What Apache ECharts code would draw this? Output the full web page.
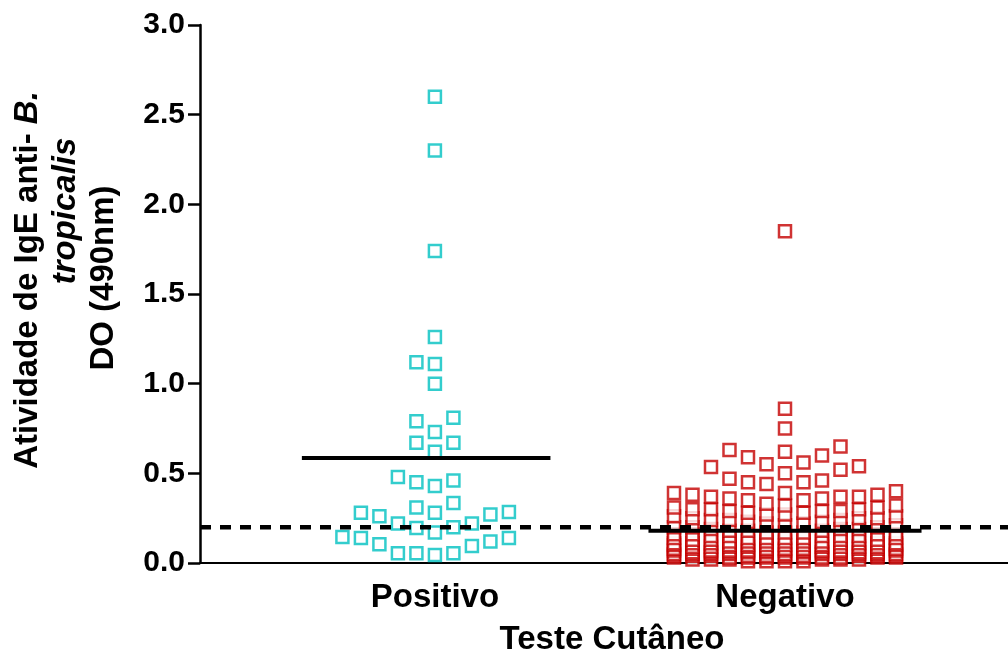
<!DOCTYPE html>
<html>
<head>
    <meta charset="utf-8">
    <title>Teste Cutaneo</title>
    <script src="https://cdn.jsdelivr.net/npm/echarts@6/dist/echarts.min.js"></script>
</head>
<body style="margin:0">
    <div id="main" style="width:1008px;height:654px;"></div>
    <script type="text/javascript">
      // dados
      var categories = ['Positivo', 'Negativo'];
      var positivo = [2.6, 2.3, 1.74, 1.26, 1.12, 1.11, 1.0, 0.81, 0.79, 0.73, 0.67, 0.67, 0.62,
        0.48, 0.46, 0.45, 0.43, 0.335, 0.31, 0.285, 0.28, 0.28, 0.27, 0.26, 0.22, 0.22, 0.20,
        0.195, 0.17, 0.145, 0.14, 0.14, 0.12, 0.105, 0.095, 0.055, 0.055, 0.055, 0.045];
      var negativo = [1.85, 0.86, 0.75, 0.65, 0.63, 0.62, 0.60, 0.59, 0.56, 0.55, 0.54, 0.535,
        0.52, 0.50, 0.47, 0.46, 0.45, 0.45, 0.44,
        0.40, 0.39, 0.39, 0.38, 0.38, 0.37, 0.37, 0.37, 0.36, 0.36, 0.35, 0.35,
        0.33, 0.32, 0.32, 0.31, 0.31, 0.30, 0.30, 0.30, 0.29, 0.29, 0.29, 0.28, 0.28, 0.27,
        0.27, 0.26, 0.26, 0.25, 0.25, 0.25, 0.24, 0.24, 0.24, 0.23, 0.23, 0.22, 0.22, 0.21,
        0.21, 0.20, 0.20, 0.20, 0.19, 0.19, 0.19, 0.18, 0.18, 0.18, 0.17, 0.17, 0.17, 0.16,
        0.16, 0.16, 0.16, 0.15, 0.15, 0.15, 0.15, 0.15, 0.14, 0.14, 0.14, 0.14, 0.14, 0.14,
        0.13, 0.13, 0.13, 0.13, 0.13, 0.12, 0.12, 0.12, 0.12, 0.12, 0.12, 0.11,
        0.11, 0.11, 0.11, 0.11, 0.11, 0.11, 0.10, 0.10, 0.10, 0.10, 0.10, 0.10, 0.10, 0.10,
        0.09, 0.09, 0.09, 0.09, 0.09, 0.09, 0.09, 0.09, 0.08, 0.08, 0.08, 0.08, 0.08, 0.08, 0.08, 0.08,
        0.07, 0.07, 0.07, 0.07, 0.07, 0.07, 0.07, 0.07, 0.07, 0.07,
        0.06, 0.06, 0.06, 0.06, 0.06, 0.06, 0.06, 0.06, 0.06, 0.06,
        0.05, 0.05, 0.05, 0.05, 0.05, 0.05, 0.05, 0.05, 0.05, 0.05,
        0.04, 0.04, 0.04, 0.04, 0.04, 0.04, 0.04, 0.04, 0.04, 0.04,
        0.03, 0.03, 0.03, 0.03, 0.03, 0.03, 0.03, 0.03, 0.03, 0.03,
        0.02, 0.02, 0.02, 0.02, 0.02, 0.02, 0.01, 0.01, 0.01, 0.01];
      var medias = [0.585, 0.18];
      var corte = 0.2;

      var cores = ['#00C0C0', '#C40000'];
      var font = '"Liberation Sans", Arial, sans-serif';

      // eixo x em unidades: categoria 1 e 2
      var xMin = 0.329, xMax = 2.637;
      var gridW = 808, gridH = 538;
      var kx = gridW / (xMax - xMin);   // px por unidade
      var ky = gridH / 3;
      var passo = 18.5, alt = 19;        // px
      var maxCol = 6;

      function sobrepoe(postos, cx, yp) {
        var s = 0;
        postos.forEach(function (p) {
          var dx = passo - Math.abs(p.x - cx), dy = alt - Math.abs(p.y - yp);
          if (dx > 0 && dy > 0) { s += dx * dy; }
        });
        return s;
      }

      // distribui os pontos lado a lado (estilo dot plot)
      function espalha(vals, centro) {
        var ord = vals.slice().sort(function (a, b) { return a - b; });
        var postos = [];
        var cand = [0];
        for (var k = 1; k <= maxCol; k++) { cand.push(-k, k); }
        ord.forEach(function (v) {
          var yp = v * ky, xp = null;
          for (var i = 0; i < cand.length; i++) {
            var cx = cand[i] * passo;
            if (sobrepoe(postos, cx, yp) === 0) { xp = cx; break; }
          }
          if (xp === null) {
            // coluna cheia: escolhe a posicao com menor sobreposicao
            var melhor = 1e12;
            for (var q = -maxCol * 4; q <= maxCol * 4; q++) {
              var qx = q * passo / 4;
              var s = sobrepoe(postos, qx, yp) + Math.abs(q) * 0.5;
              if (s < melhor) { melhor = s; xp = qx; }
            }
          }
          postos.push({ x: xp, y: yp });
        });
        return postos.map(function (p) { return [centro + p.x / kx, p.y / ky]; });
      }

      // extensao das linhas de media (em unidades do eixo x)
      var mediaEsq = [0.38, 0.39], mediaDir = [0.33, 0.39];
      var series = [];
      [positivo, negativo].forEach(function (vals, i) {
        series.push({
          type: 'scatter',
          data: espalha(vals, i + 1),
          symbol: 'rect',
          symbolSize: 12,
          itemStyle: { color: '#fff', borderColor: cores[i], borderWidth: 2.5 },
          z: 2
        });
        series.push({
          type: 'line',
          data: [[i + 1 - mediaEsq[i], medias[i]], [i + 1 + mediaDir[i], medias[i]]],
          symbol: 'none',
          lineStyle: { color: '#000', width: 4 },
          z: 3
        });
      });
      series.push({
        type: 'line',
        data: [[xMin, corte], [xMax, corte]],
        symbol: 'none',
        lineStyle: { color: '#000', width: 4.5, type: [11, 9] },
        z: 4
      });

      var echart = echarts.init(document.getElementById('main'));
      var option = {
        animation: false,
        grid: { left: 200, right: 0, top: 25, bottom: 91, containLabel: false, outerBoundsMode: 'none' },
        xAxis: {
          type: 'value', min: xMin, max: xMax,
          splitLine: { show: false },
          axisTick: { show: false },
          axisLine: { lineStyle: { color: '#000', width: 2 } },
          axisLabel: {
            customValues: [1, 2],
            formatter: function (v) { return categories[Math.round(v) - 1]; },
            margin: 18, color: '#000', fontSize: 33, fontWeight: 'bold', fontFamily: font
          },
          name: 'Teste Cutâneo', nameLocation: 'middle', nameGap: 60,
          nameTextStyle: { color: '#000', fontSize: 33, fontWeight: 'bold', fontFamily: font,
            padding: [0, 0, 0, 16] }
        },
        yAxis: {
          type: 'value', min: 0, max: 3, interval: 0.5,
          splitLine: { show: false },
          axisLine: { show: true, lineStyle: { color: '#000', width: 2.5 } },
          axisTick: { show: true, length: 12, lineStyle: { color: '#000', width: 2.5 } },
          axisLabel: {
            formatter: function (v) { return v.toFixed(1); },
            margin: 15, color: '#000', fontSize: 30, fontWeight: 'bold', fontFamily: font
          }
        },
        graphic: [
          { type: 'text', x: 28, y: 280, rotation: Math.PI / 2,
            style: { text: '{n|Atividade de IgE anti- }{i|B.}', align: 'center', verticalAlign: 'middle',
              rich: {
                n: { fontSize: 33, fontWeight: 'bold', fontFamily: font, fill: '#000' },
                i: { fontSize: 33, fontWeight: 'bold', fontStyle: 'italic', fontFamily: font, fill: '#000' }
              } } },
          { type: 'text', x: 66, y: 211, rotation: Math.PI / 2,
            style: { text: 'tropicalis', align: 'center', verticalAlign: 'middle', fontSize: 33,
              fontWeight: 'bold', fontStyle: 'italic', fontFamily: font, fill: '#000' } },
          { type: 'text', x: 104, y: 278, rotation: Math.PI / 2,
            style: { text: 'DO (490nm)', align: 'center', verticalAlign: 'middle', fontSize: 33,
              fontWeight: 'bold', fontFamily: font, fill: '#000' } }
        ],
        series: series
      };
      echart.setOption(option);
    </script>
</body>
</html>
